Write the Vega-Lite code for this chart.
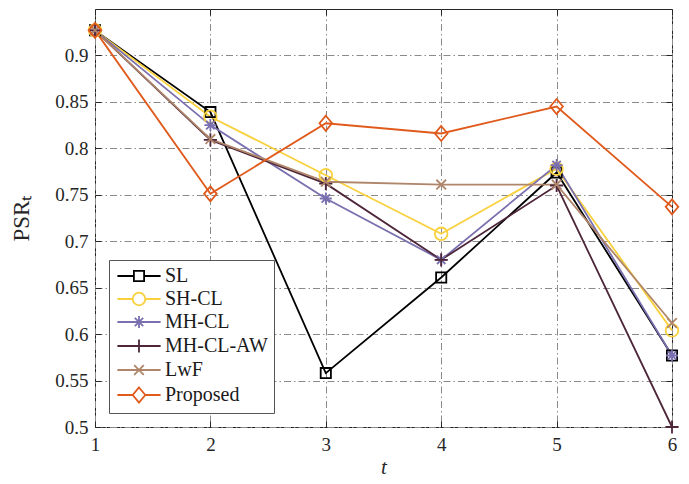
{
  "$schema": "https://vega.github.io/schema/vega-lite/v6.json",
  "autosize": "none",
  "width": 577,
  "height": 418,
  "padding": {"left": 95, "top": 9, "right": 17, "bottom": 57},
  "background": "white",
  "config": {
    "font": "Liberation Serif",
    "view": {"stroke": "#262626", "strokeWidth": 1},
    "axis": {
      "labelFont": "Liberation Serif",
      "labelFontSize": 19,
      "labelColor": "#262626",
      "titleFont": "Liberation Serif",
      "titleColor": "#262626",
      "titleFontWeight": "normal",
      "domain": false,
      "tickColor": "#262626",
      "tickSize": -6,
      "tickWidth": 1,
      "gridColor": "#8a8a8a",
      "gridDash": [7, 3, 1.5, 3],
      "gridWidth": 1,
      "gridOpacity": 1
    }
  },
  "data": {
    "values": [
      {"t": 1, "series": "SL", "psr": 0.927},
      {"t": 2, "series": "SL", "psr": 0.839},
      {"t": 3, "series": "SL", "psr": 0.558},
      {"t": 4, "series": "SL", "psr": 0.661},
      {"t": 5, "series": "SL", "psr": 0.774},
      {"t": 6, "series": "SL", "psr": 0.577},
      {"t": 1, "series": "SH-CL", "psr": 0.927},
      {"t": 2, "series": "SH-CL", "psr": 0.834},
      {"t": 3, "series": "SH-CL", "psr": 0.771},
      {"t": 4, "series": "SH-CL", "psr": 0.708},
      {"t": 5, "series": "SH-CL", "psr": 0.778},
      {"t": 6, "series": "SH-CL", "psr": 0.604},
      {"t": 1, "series": "MH-CL", "psr": 0.927},
      {"t": 2, "series": "MH-CL", "psr": 0.825},
      {"t": 3, "series": "MH-CL", "psr": 0.746},
      {"t": 4, "series": "MH-CL", "psr": 0.680},
      {"t": 5, "series": "MH-CL", "psr": 0.782},
      {"t": 6, "series": "MH-CL", "psr": 0.577},
      {"t": 1, "series": "MH-CL-AW", "psr": 0.927},
      {"t": 2, "series": "MH-CL-AW", "psr": 0.809},
      {"t": 3, "series": "MH-CL-AW", "psr": 0.762},
      {"t": 4, "series": "MH-CL-AW", "psr": 0.680},
      {"t": 5, "series": "MH-CL-AW", "psr": 0.760},
      {"t": 6, "series": "MH-CL-AW", "psr": 0.500},
      {"t": 1, "series": "LwF", "psr": 0.927},
      {"t": 2, "series": "LwF", "psr": 0.810},
      {"t": 3, "series": "LwF", "psr": 0.764},
      {"t": 4, "series": "LwF", "psr": 0.761},
      {"t": 5, "series": "LwF", "psr": 0.761},
      {"t": 6, "series": "LwF", "psr": 0.612},
      {"t": 1, "series": "Proposed", "psr": 0.927},
      {"t": 2, "series": "Proposed", "psr": 0.751},
      {"t": 3, "series": "Proposed", "psr": 0.827},
      {"t": 4, "series": "Proposed", "psr": 0.816},
      {"t": 5, "series": "Proposed", "psr": 0.845},
      {"t": 6, "series": "Proposed", "psr": 0.737}
    ]
  },
  "resolve": {"legend": {"color": "independent"}},
  "layer": [
    {
      "mark": {"type": "line", "strokeWidth": 1.8, "clip": false},
      "encoding": {
        "x": {
          "field": "t", "type": "quantitative",
          "scale": {"domain": [1, 6], "nice": false, "zero": false},
          "axis": {"orient": "bottom", "values": [1, 2, 3, 4, 5, 6], "format": "d", "grid": true, "title": "t", "titleFontStyle": "italic", "titleFontSize": 21, "labelPadding": 14, "titlePadding": 2, "labelFlush": false}
        },
        "y": {
          "field": "psr", "type": "quantitative",
          "scale": {"domain": [0.5, 0.95], "nice": false, "zero": false},
          "axis": {"orient": "left", "values": [0.5, 0.55, 0.6, 0.65, 0.7, 0.75, 0.8, 0.85, 0.9], "format": ".2~f", "grid": true, "title": "PSRₜ", "titleFontSize": 23, "labelPadding": 13, "titlePadding": 21, "labelFlush": false}
        },
        "color": {
          "field": "series", "type": "nominal",
          "scale": {"domain": ["SL", "SH-CL", "MH-CL", "MH-CL-AW", "LwF", "Proposed"], "range": ["#000000", "#F9D13E", "#7A6FAF", "#4D2639", "#B0866A", "#E05A1C"]},
          "legend": {
            "title": null,
            "orient": "bottom-left",
            "offset": 14,
            "labelFont": "Liberation Serif",
            "labelFontSize": 20,
            "labelColor": "#1a1a1a",
            "symbolSize": 144,
            "symbolStrokeWidth": 1.8,
            "symbolOpacity": 1,
            "symbolOffset": 14,
            "labelOffset": 16,
            "rowPadding": 3,
            "padding": 6,
            "fillColor": "white",
            "strokeColor": "#555555",
            "encode": {
              "symbols": {
                "update": {
                  "shape": {"signal": "datum.value === 'SL' ? 'M-3.6,0L-0.85,0M0.85,0L3.6,0M-0.85,-0.85L0.85,-0.85L0.85,0.85L-0.85,0.85Z' : datum.value === 'SH-CL' ? 'M-3.6,0L-1.05,0M1.05,0L3.6,0M1.05,0A1.05,1.05,0,1,1,-1.05,0A1.05,1.05,0,1,1,1.05,0Z' : datum.value === 'MH-CL' ? 'M-3.6,0L3.6,0M0,-1L0,1M-0.7,-0.7L0.7,0.7M-0.7,0.7L0.7,-0.7' : datum.value === 'MH-CL-AW' ? 'M-3.6,0L3.6,0M0,-1.1L0,1.1' : datum.value === 'LwF' ? 'M-3.6,0L3.6,0M-0.8,-0.8L0.8,0.8M-0.8,0.8L0.8,-0.8' : 'M-3.6,0L-1.05,0M1.05,0L3.6,0M0,-1.25L1.05,0L0,1.25L-1.05,0Z'"},
                  "fill": {"value": "transparent"},
                  "stroke": {"scale": "color", "field": "value"},
                  "strokeWidth": {"value": 1.8}
                }
              }
            }
          }
        }
      }
    },
    {
      "mark": {"type": "point", "filled": false, "strokeWidth": 1.8, "size": 144, "opacity": 1, "clip": false},
      "encoding": {
        "x": {"field": "t", "type": "quantitative", "axis": {"orient": "top", "values": [1, 2, 3, 4, 5, 6], "labels": false, "grid": false, "title": null}},
        "y": {"field": "psr", "type": "quantitative", "axis": {"orient": "right", "values": [0.5, 0.55, 0.6, 0.65, 0.7, 0.75, 0.8, 0.85, 0.9], "labels": false, "grid": false, "title": null}},
        "color": {"field": "series", "type": "nominal", "legend": null},
        "shape": {
          "field": "series", "type": "nominal",
          "scale": {
            "domain": ["SL", "SH-CL", "MH-CL", "MH-CL-AW", "LwF", "Proposed"],
            "range": [
              "M-0.85,-0.85L0.85,-0.85L0.85,0.85L-0.85,0.85Z",
              "M1.05,0A1.05,1.05,0,1,1,-1.05,0A1.05,1.05,0,1,1,1.05,0Z",
              "M-1,0L1,0M0,-1L0,1M-0.7,-0.7L0.7,0.7M-0.7,0.7L0.7,-0.7",
              "M-1.1,0L1.1,0M0,-1.1L0,1.1",
              "M-0.8,-0.8L0.8,0.8M-0.8,0.8L0.8,-0.8",
              "M0,-1.25L1.05,0L0,1.25L-1.05,0Z"
            ]
          },
          "legend": null
        }
      }
    }
  ]
}
